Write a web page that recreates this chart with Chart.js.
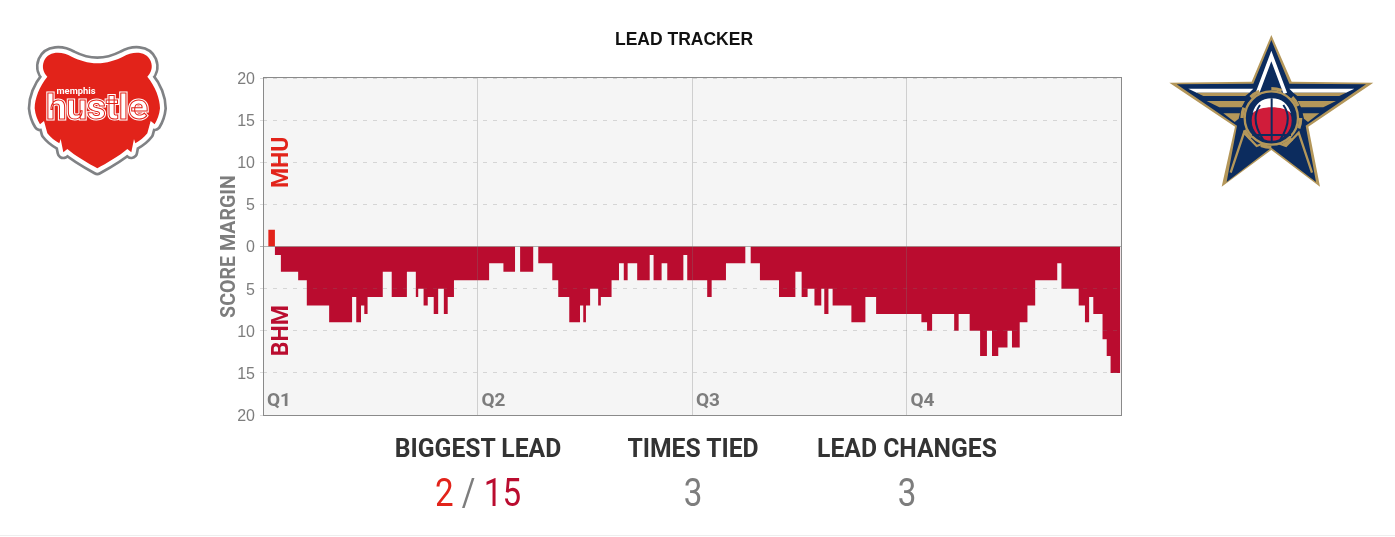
<!DOCTYPE html>
<html>
<head>
<meta charset="utf-8">
<title>Lead Tracker</title>
<script src="https://cdn.jsdelivr.net/npm/chart.js@4"></script>
<style>
html,body{margin:0;padding:0;background:#fff;width:1395px;height:537px;overflow:hidden}
#stage{position:relative;width:1395px;height:537px;font-family:Roboto,sans-serif}
canvas{position:absolute;left:0;top:0}
.t{position:absolute;white-space:nowrap;transform:translateX(-50%)}
#title{left:684px;top:29px;font:bold 17.5px "Liberation Sans",Arial,sans-serif;color:#111}
.h{top:434px;font-weight:700;font-size:26px;line-height:28px;color:#333;transform:translateX(-50%) scaleX(.95)}
.v{top:470px;font-weight:400;font-size:39px;line-height:46px;color:#7d7d7d;transform:translateX(-50%) scaleX(.85)}
#rule{position:absolute;left:0;top:535px;width:1395px;height:1px;background:#eee}
svg{position:absolute;left:0;top:0;overflow:visible}
</style>
</head>
<body>
<div id="stage">
<canvas id="c" width="1395" height="537"></canvas>
<div class="t" id="title">LEAD TRACKER</div>
<div class="t h" style="left:478px">BIGGEST LEAD</div>
<div class="t h" style="left:692.5px">TIMES TIED</div>
<div class="t h" style="left:907px">LEAD CHANGES</div>
<div class="t v" style="left:478px"><span style="color:#e2231a">2</span> / <span style="color:#ba0c2f">15</span></div>
<div class="t v" style="left:692.5px">3</div>
<div class="t v" style="left:907px">3</div>
<div id="rule"></div>

<svg width="1395" height="537">
  <g transform="translate(20,35) scale(.33333)">
    <g stroke-linejoin="round">
      <path fill="#808285" stroke="#808285" stroke-width="42" d="M232 85C205 85 175 75 155 65C125 48 85 48 72 78C64 98 72 115 82 125C58 155 44 190 44 220C46 240 52 255 60 268L72 258L82 295C92 308 105 318 118 325L122 312L130 352L142 342C165 362 205 385 232 400C259 385 299 362 322 342L334 352L342 312L346 325C359 318 372 308 382 295L392 258L404 268C412 255 418 240 420 220C420 190 406 155 382 125C392 115 400 98 392 78C379 48 339 48 309 65C289 75 259 85 232 85Z"/>
      <path fill="#e2231a" stroke="#fff" stroke-width="26" paint-order="stroke" d="M232 85C205 85 175 75 155 65C125 48 85 48 72 78C64 98 72 115 82 125C58 155 44 190 44 220C46 240 52 255 60 268L72 258L82 295C92 308 105 318 118 325L122 312L130 352L142 342C165 362 205 385 232 400C259 385 299 362 322 342L334 352L342 312L346 325C359 318 372 308 382 295L392 258L404 268C412 255 418 240 420 220C420 190 406 155 382 125C392 115 400 98 392 78C379 48 339 48 309 65C289 75 259 85 232 85Z"/>
    </g>
    <text x="168" y="177" text-anchor="middle" font-family="Roboto,sans-serif" font-weight="700" font-size="28" fill="#fff">memphis</text>
    <text x="78" y="252" font-family="Roboto,sans-serif" font-weight="700" font-size="106" textLength="306" lengthAdjust="spacingAndGlyphs" fill="#fff" stroke="#fff" stroke-width="9">hustle</text>
    <text x="78" y="252" font-family="Roboto,sans-serif" font-weight="700" font-size="106" textLength="306" lengthAdjust="spacingAndGlyphs" fill="#fff" stroke="#e2231a" stroke-width="3">hustle</text>
  </g>
  <g transform="translate(1160,30) scale(.33333)">
    <polygon fill="#b4975a" points="334,15 395,155 640,158 445,290 480,470 334,360 185,470 225,290 28,158 275,155"/>
    <polygon fill="#0c2c5e" points="334,30 388,161 618,163 437,287 468,456 334,353 200,456 231,287 50,163 280,161"/>
    <path d="M292 190L334 78L376 190" fill="none" stroke="#fff" stroke-width="11"/>
    <g fill="#fff"><polygon points="85,176 280,176 268,188 110,188"/><polygon points="583,176 388,176 400,188 558,188"/></g>
    <g fill="#b4975a">
      <polygon points="110,188 268,188 256,198 130,198"/><polygon points="558,188 400,188 412,198 538,198"/>
      <polygon points="140,213 255,213 245,232 178,232"/><polygon points="528,213 413,213 423,232 490,232"/>
      <polygon points="190,250 240,250 236,266 224,276"/><polygon points="478,250 428,250 432,266 444,276"/>
    </g>
    <path d="M212 428L252 308L290 348L334 332L378 348L416 308L456 428" fill="none" stroke="#b4975a" stroke-width="7"/>
    <circle cx="334" cy="264" r="88" fill="none" stroke="#b4975a" stroke-width="10" stroke-dasharray="32 37"/>
    <circle cx="334" cy="264" r="80" fill="#0c2c5e" stroke="#b4975a" stroke-width="7"/>
    <circle cx="335" cy="272" r="60" fill="#d01c3a"/>
    <path d="M278 250C285 222 305 205 335 205C365 205 385 222 393 250C372 226 298 226 278 250Z" fill="#fff"/>
    <g fill="none" stroke="#0c2c5e" stroke-width="6">
      <path d="M335 205V335M277 315H393M300 225C275 260 290 300 310 330M370 225C395 260 380 300 360 330"/>
    </g>
  </g>
</svg>
</div>

<script>
// Game clock in seconds at which each margin begins (48 minutes = 2880 s)
const gameSeconds = [0,18,40,60,118,147,222,299,313,329,340,351,402,432,483,513,521,539,553,573,588,607,620,641,
  759,807,846,863,907,924,971,991,1028,1064,1075,1084,1098,1125,1134,1170,1195,1211,1224,1256,1298,1311,1338,1357,1411,1424,
  1491,1506,1554,1619,1637,1668,1732,1787,1808,1828,1851,1874,1884,1898,1912,1975,2022,2058,
  2210,2229,2246,2320,2335,2372,2407,2430,2447,2468,2499,2514,2540,2566,2592,2666,2680,2738,2759,2773,2787,2818,2832,2845,2878];
// Score margin: positive = MHU ahead, negative = BHM ahead
const margins = [0,2,-1,-3,-4,-7,-9,-6,-9,-7,-8,-6,-3,-6,-3,-6,-5,-7,-6,-8,-5,-8,-6,-4,
  -2,-3,0,-3,0,-2,-4,-6,-9,-7,-9,-7,-5,-7,-6,-4,-2,-4,-2,-4,-1,-4,-2,-4,-1,-4,
  -6,-4,-2,0,-2,-4,-6,-3,-6,-5,-7,-5,-8,-5,-7,-9,-6,-8,
  -9,-10,-8,-10,-8,-10,-13,-10,-13,-12,-10,-12,-9,-7,-4,-2,-5,-7,-9,-6,-8,-11,-13,-15,-15];
const quarterLabels = ['Q1','Q2','Q3','Q4'];
const quarterStarts = [0,720,1440,2160];
const teamLabels = ['MHU','BHM'];
const teamAnchorMargins = [10,-10];
const teamColors = ['#e2231a','#ba0c2f'];

const decorate = {
  id:'decorate',
  beforeDraw(chart){
    const {ctx,chartArea:a,scales:{y}} = chart;
    ctx.save();
    ctx.fillStyle='#f5f5f5';
    ctx.fillRect(a.left,a.top,a.right-a.left,a.bottom-a.top);
    ctx.restore();
    y.getLabelItems(a).forEach(it=>{it.options.translation[1]+=1.5;});
  },
  afterDraw(chart){
    const {ctx,chartArea:a,scales:{x,y}} = chart;
    ctx.save();
    ctx.strokeStyle='#8a8a8a';
    ctx.lineWidth=1;
    ctx.strokeRect(a.left+.5,a.top-.5,a.right-a.left,a.bottom-a.top+1);
    ctx.fillStyle='#7d7d7d';
    ctx.font='700 19px Roboto, sans-serif';
    ctx.textBaseline='alphabetic';
    quarterLabels.forEach((q,i)=>ctx.fillText(q,x.getPixelForValue(quarterStarts[i])+4,405.5));
    ctx.font='700 23px Roboto, sans-serif';
    ctx.textAlign='center';
    ctx.textBaseline='middle';
    teamLabels.forEach((t,i)=>{
      ctx.save();
      ctx.translate(a.left+18,y.getPixelForValue(teamAnchorMargins[i]));
      ctx.rotate(-Math.PI/2);
      ctx.fillStyle=teamColors[i];
      ctx.fillText(t,0,1);
      ctx.restore();
    });
    ctx.restore();
  }
};

new Chart(document.getElementById('c'),{
  type:'line',
  data:{datasets:[{
    data:gameSeconds.map((s,i)=>({x:s,y:margins[i]})),
    stepped:true,
    borderWidth:0,
    borderColor:'rgba(0,0,0,0)',
    pointRadius:0,
    fill:{target:'origin',above:'#e2231a',below:'#ba0c2f'}
  }]},
  options:{
    responsive:false,
    animation:false,
    events:[],
    layout:{padding:{left:215,right:274,top:78,bottom:122}},
    plugins:{legend:{display:false},tooltip:{enabled:false},title:{display:false}},
    scales:{
      x:{
        type:'linear',min:0,max:2880,
        afterBuildTicks(s){s.ticks=quarterStarts.slice(1).map(v=>({value:v}));},
        afterFit(s){s.height=0;},
        ticks:{display:false},
        border:{display:false},
        grid:{z:1,drawTicks:false,color:'rgba(120,120,120,.3)',lineWidth:1}
      },
      y:{
        min:-20,max:20,
        afterFit(s){s.width=48;},
        ticks:{stepSize:5,padding:5,color:'#7d7d7d',font:{family:'"Liberation Sans",Arial,sans-serif',size:16},callback:v=>Math.abs(v)},
        border:{display:false,dash:c=>(c.tick&&c.tick.value===0)?[]:[4,6]},
        grid:{z:1,tickLength:3,lineWidth:1,color:c=>c.tick.value===0?'rgba(120,120,120,.55)':'rgba(120,120,120,.25)'},
        title:{display:true,text:'SCORE MARGIN',color:'#7d7d7d',font:{family:'Roboto, sans-serif',weight:'700',size:19.6},padding:{top:3,bottom:0}}
      }
    }
  },
  plugins:[decorate]
});
</script>
</body>
</html>
